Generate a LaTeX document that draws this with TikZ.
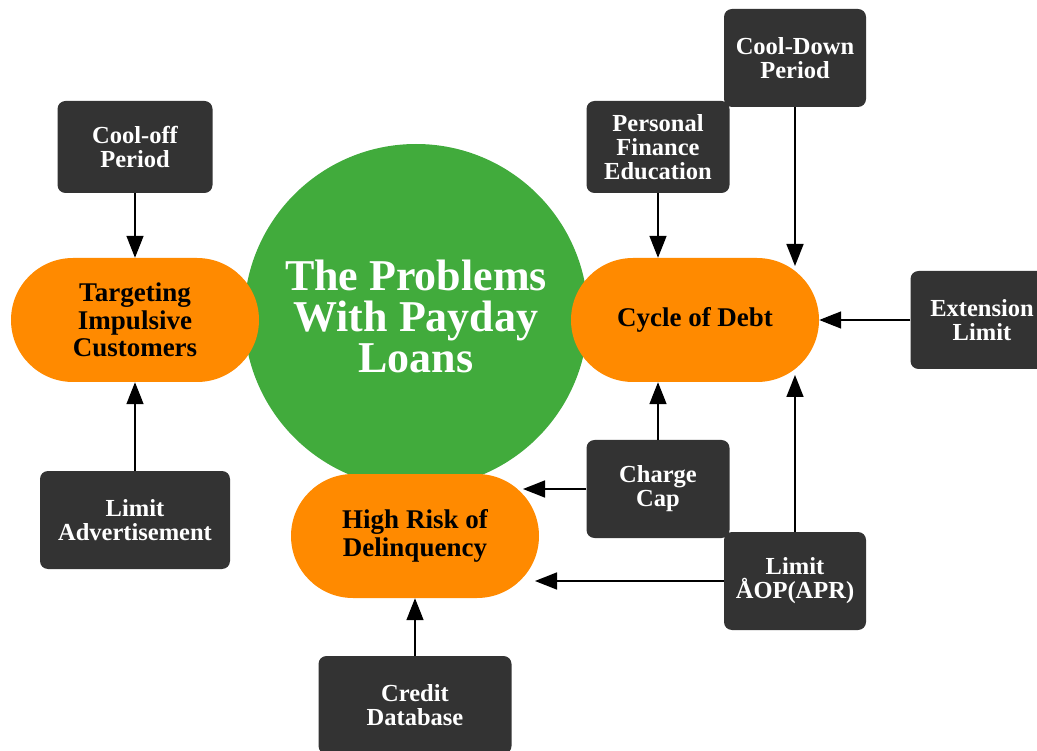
\documentclass[tikz,border=0pt]{standalone}
\usepackage{fontspec}
\setmainfont{Liberation Serif}
\usetikzlibrary{shapes.misc,arrows.meta}
\definecolor{grn}{HTML}{41AB3C}
\definecolor{org}{HTML}{FF8A00}
\definecolor{drk}{HTML}{333333}
\begin{document}
\begin{tikzpicture}[x=1pt,y=-1pt,
 box/.style={fill=drk,rounded corners=8pt,text=white,font=\bfseries\fontsize{24.5}{24}\selectfont,align=center,inner sep=0pt},
 prob/.style={rounded rectangle,fill=org,minimum width=248pt,minimum height=124pt,text=black,font=\bfseries\fontsize{27}{27.5}\selectfont,align=center,inner sep=0pt},
 arr/.style={line width=1.6pt,-{Triangle[length=22pt,width=17pt]}}]
\useasboundingbox (0,0) rectangle (1037,751);
\clip (0,0) rectangle (1037,751);
% central circle
\node[circle,fill=grn,minimum size=344pt,inner sep=0pt,text=white,align=center,font=\bfseries\fontsize{44}{41}\selectfont] (core) at (416,316) {The Problems\\With Payday\\Loans};
% problem nodes
\node[prob] (targ) at (135,320) {Targeting\\Impulsive\\Customers};
\node[prob] (cyc) at (695,320) {Cycle of Debt};
\node[prob] (risk) at (415,536) {High Risk of\\Delinquency};
% remedy boxes
\node[box,minimum width=155pt,minimum height=92pt] (cooloff) at (135,147) {Cool-off\\Period};
\node[box,minimum width=190pt,minimum height=98pt] (limadv) at (135,520) {Limit\\Advertisement};
\node[box,minimum width=143pt,minimum height=92pt] (pfe) at (658,147) {Personal\\Finance\\Education};
\node[box,minimum width=142pt,minimum height=98pt] (cooldown) at (795,58) {Cool-Down\\Period};
\node[box,minimum width=143pt,minimum height=98pt] (ext) at (982,320) {Extension\\Limit};
\node[box,minimum width=143pt,minimum height=98pt] (charge) at (658,489) {Charge\\Cap};
\node[box,minimum width=142pt,minimum height=98pt] (apr) at (795,581) {Limit\\ÅOP(APR)};
\node[box,minimum width=193pt,minimum height=98pt] (credit) at (415,705) {Credit\\Database};
% tip coordinates on curved ends
\coordinate (cdin) at (795,266);
\coordinate (aprin) at (795,375);
\coordinate (chgin) at (523,489);
\coordinate (aprrisk) at (535,581);
% connectors
\draw[arr] (cooloff.south) -- (targ.north);
\draw[arr] (limadv.north) -- (targ.south);
\draw[arr] (pfe.south) -- (pfe.south |- cyc.north);
\draw[arr] (cooldown.south) -- (cdin);
\draw[arr] (ext.west) -- (ext.west -| cyc.east);
\draw[arr] (charge.north) -- (charge.north |- cyc.south);
\draw[arr] (apr.north) -- (aprin);
\draw[arr] (charge.west) -- (chgin);
\draw[arr] (apr.west) -- (aprrisk);
\draw[arr] (credit.north) -- (risk.south);
\end{tikzpicture}
\end{document}
